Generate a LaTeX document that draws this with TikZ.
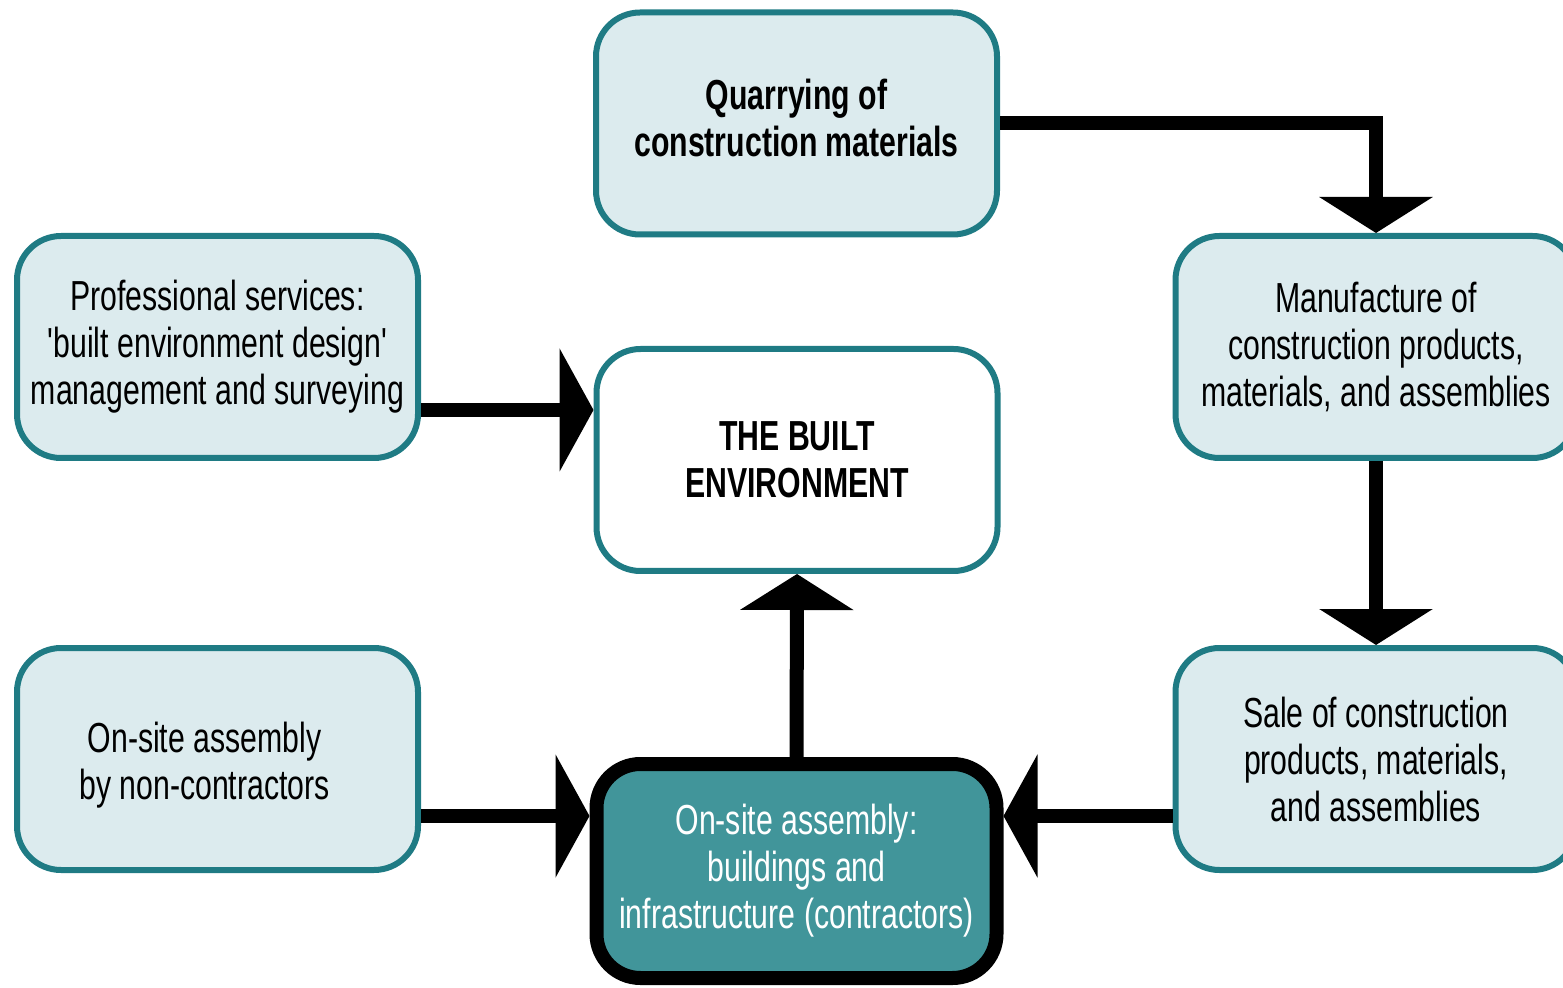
\documentclass[tikz,border=0pt]{standalone}
\usepackage{fontspec}
\setmainfont{Liberation Sans}[FakeStretch=0.72, Ligatures=TeXOff]
\usetikzlibrary{arrows.meta,calc}
\definecolor{boxfill}{HTML}{DCEBEE}
\definecolor{boxline}{HTML}{1F7B84}
\definecolor{darkfill}{HTML}{41959A}
\tikzset{
  boxfont/.style={font=\fontsize{21pt}{23.5pt}\selectfont},
  box/.style={draw=boxline, line width=3pt, fill=boxfill, rounded corners=22pt,
    minimum width=200.5pt, minimum height=111pt, align=center, inner sep=0pt, boxfont},
  whitebox/.style={box, fill=white, font=\fontsize{21pt}{23.5pt}\selectfont\bfseries},
  mainbox/.style={box, draw=black, line width=7pt, fill=darkfill, text=white,
    minimum width=200pt, minimum height=107pt},
  arr/.style={line width=7pt, line join=miter, -{Triangle[length=18pt, width=56pt]}},
  harr/.style={line width=7pt, line join=miter, -{Triangle[length=17pt, width=61pt]}},
}
\begin{document}
\begin{tikzpicture}[x=0.5pt, y=-0.5pt]
\useasboundingbox (0,0) rectangle (1563,988);
\node[box, font=\fontsize{21pt}{23.5pt}\selectfont\bfseries] (quarry) at (796.5,123.5) {\raisebox{2pt}{\begin{tabular}{@{}c@{}}Quarrying of\\[-0.2pt]construction materials\end{tabular}}};
\node[box] (prof) at (217.5,347) {Professional services:\\'built environment design'\\management and surveying};
\node[whitebox] (built) at (797,460) {THE BUILT\\ENVIRONMENT};
\node[box] (manu) at (1376,347) {Manufacture of\\construction products,\\materials, and assemblies};
\node[box, label={[boxfont, align=center, xshift=-6.5pt, yshift=-3pt]center:On-site assembly\\by non-contractors}] (nonc) at (217.5,759) {};
\node[box] (sale) at (1376,759) {Sale of construction\\products, materials,\\and assemblies};
\node[mainbox] (contr) at (796.5,871) {On-site assembly:\\buildings and\\infrastructure (contractors)};

\draw[arr] (quarry.east) -| (manu.north);
\draw[arr] (manu.south) -- (sale.north);
\draw[harr] ([yshift=-31.5pt]prof.east) -- ([yshift=-31.5pt]prof.east -| built.west);
\draw[harr] ([yshift=-28.5pt]nonc.east) -- ([yshift=-28.5pt]nonc.east -| contr.west);
\draw[harr] ([yshift=-28.5pt]sale.west) -- ([yshift=-28.5pt]sale.west -| contr.east);
\draw[arr] (contr.north) -- (built.south);
\end{tikzpicture}
\end{document}
